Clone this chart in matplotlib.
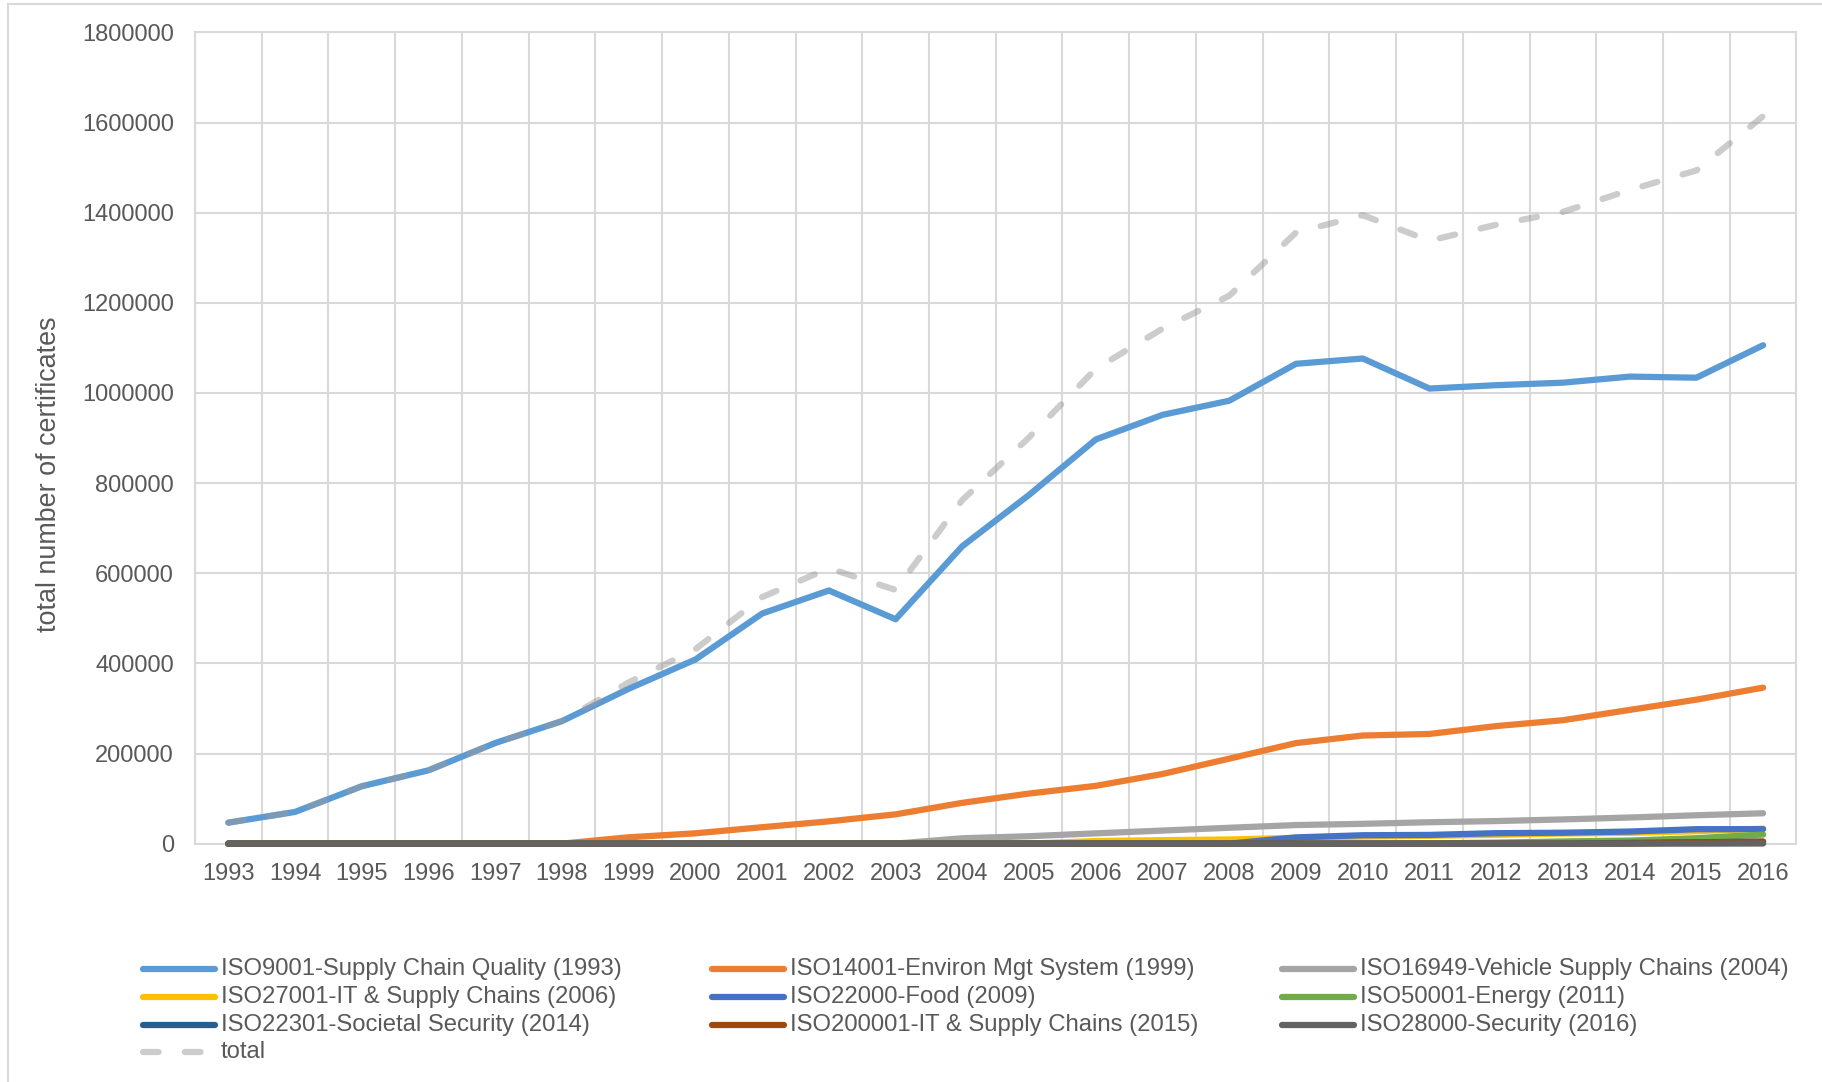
import numpy as np
import matplotlib
matplotlib.use("Agg")
import matplotlib.pyplot as plt
from matplotlib.lines import Line2D

plt.rcParams["font.family"] = ["Liberation Sans", "DejaVu Sans"]

years = list(range(1993, 2017))

iso9001 = [46571, 70364, 127349, 162701, 223299, 271847, 343643, 408631, 510616, 561747, 497919, 660132,
           773867, 896929, 951486, 982832, 1064785, 1076525, 1009845, 1017279, 1022877, 1036321, 1033936, 1105937]
iso14001 = [0, 0, 0, 0, 0, 0, 14106, 22897, 36464, 49440, 64996, 90554,
            111162, 128211, 154572, 188574, 223149, 239880, 243393, 260852, 273861, 296736, 319496, 346147]
iso16949 = [0, 0, 0, 0, 0, 0, 0, 0, 0, 0, 0, 11935,
            16461, 22817, 29000, 35223, 41240, 43946, 47512, 50071, 53723, 57950, 62944, 67358]
iso27001 = [0, 0, 0, 0, 0, 0, 0, 0, 0, 0, 0, 0,
            0, 5797, 7732, 9246, 12934, 15626, 17355, 19620, 22349, 23972, 27536, 33290]
iso22000 = [0, 0, 0, 0, 0, 0, 0, 0, 0, 0, 0, 0,
            0, 0, 0, 0, 13881, 18630, 19351, 23231, 24216, 26847, 32061, 32139]
iso50001 = [0, 0, 0, 0, 0, 0, 0, 0, 0, 0, 0, 0,
            0, 0, 0, 0, 0, 0, 461, 2236, 4826, 6778, 11985, 20216]
iso22301 = [0, 0, 0, 0, 0, 0, 0, 0, 0, 0, 0, 0,
            0, 0, 0, 0, 0, 0, 0, 0, 0, 1757, 3133, 4281]
iso200001 = [0, 0, 0, 0, 0, 0, 0, 0, 0, 0, 0, 0,
             0, 0, 0, 0, 0, 0, 0, 0, 0, 0, 2778, 4537]
iso28000 = [0, 0, 0, 0, 0, 0, 0, 0, 0, 0, 0, 0,
            0, 0, 0, 0, 0, 0, 0, 0, 0, 0, 0, 356]
total = [46571, 70364, 127349, 162701, 223299, 271847, 357749, 431528, 547080, 611187, 562915, 762621,
         901490, 1053754, 1142790, 1215875, 1355989, 1394607, 1337917, 1373289, 1401852, 1450361, 1493869, 1614261]

labels = ["ISO9001-Supply Chain Quality (1993)", "ISO14001-Environ Mgt System (1999)",
          "ISO16949-Vehicle Supply Chains (2004)", "ISO27001-IT & Supply Chains (2006)",
          "ISO22000-Food (2009)", "ISO50001-Energy (2011)",
          "ISO22301-Societal Security (2014)", "ISO200001-IT & Supply Chains (2015)",
          "ISO28000-Security (2016)", "total"]
series = [iso9001, iso14001, iso16949, iso27001, iso22000, iso50001, iso22301, iso200001, iso28000, total]
colors = ["#5b9bd5", "#ed7d31", "#a5a5a5", "#ffc000", "#4472c4", "#70ad47",
          "#255e91", "#9e480e", "#636363", "#9a9a9a"]

grid_c = "#d9d9d9"
text_c = "#595959"
lw = 4.5

fig = plt.figure(figsize=(18.22, 10.82), dpi=100)
ax = fig.add_axes([0.107, 0.2203, 0.879, 0.7497])

for i, (vals, lab, c) in enumerate(zip(series, labels, colors)):
    if lab == "total":
        ax.plot(years, vals, color=c, lw=lw, alpha=0.5, dashes=(2.5, 4.2),
                dash_capstyle="round", clip_on=False, zorder=3 + i)
    else:
        ax.plot(years, vals, color=c, lw=lw, solid_capstyle="round",
                solid_joinstyle="round", clip_on=False, zorder=3 + i)

ax.set_xlim(1992.5, 2016.5)
ax.set_ylim(0, 1800000)
ax.set_xticks(years)
ax.set_xticks(np.arange(1992.5, 2017), minor=True)
ax.set_yticks(np.arange(0, 1800001, 200000))
ax.yaxis.set_major_formatter(matplotlib.ticker.FuncFormatter(lambda v, p: "%d" % v))
ax.grid(which="minor", axis="x", color=grid_c, lw=1.5)
ax.grid(which="major", axis="y", color=grid_c, lw=1.5)
ax.set_axisbelow(True)
for s in ax.spines.values():
    s.set_color(grid_c)
    s.set_linewidth(1.5)
ax.tick_params(which="both", length=0)
ax.tick_params(axis="x", pad=14, labelsize=17, labelcolor=text_c)
ax.tick_params(axis="y", pad=15, labelsize=17, labelcolor=text_c)

fig.text(49 / 1822, 1 - 474 / 1082, "total number of certificates", rotation=90,
         ha="center", va="center", fontsize=19.4, color=text_c)

# legend, 3 columns laid out row by row
col_x = [143, 712, 1282]
row_y = [969, 997, 1025, 1052]
W, H = 1822.0, 1082.0
for i, (lab, c) in enumerate(zip(labels, colors)):
    x0 = col_x[i % 3]
    y = 1 - row_y[i // 3] / H
    if lab == "total":
        fig.add_artist(Line2D([x0 / W, (x0 + 72) / W], [y, y], transform=fig.transFigure,
                              color=c, lw=lw, alpha=0.5, dashes=(2.5, 4.2), dash_capstyle="round"))
    else:
        fig.add_artist(Line2D([x0 / W, (x0 + 72) / W], [y, y], transform=fig.transFigure,
                              color=c, lw=lw, solid_capstyle="round"))
    fig.text((x0 + 78) / W, y, lab, ha="left", va="center", fontsize=17.2, color=text_c)

# outer chart border
fig.add_artist(Line2D([8 / W, 1], [1 - 4 / H, 1 - 4 / H], transform=fig.transFigure, color=grid_c, lw=1.5))
fig.add_artist(Line2D([8 / W, 8 / W], [0, 1 - 4 / H], transform=fig.transFigure, color=grid_c, lw=1.5))

fig.savefig("out.png", dpi=100)
